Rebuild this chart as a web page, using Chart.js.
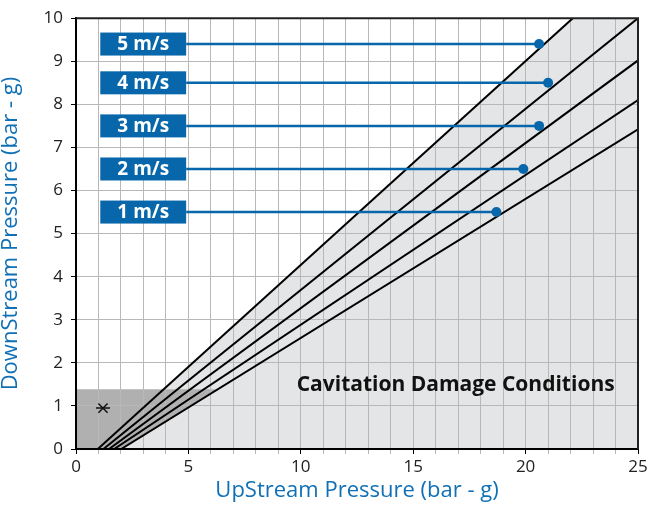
<!DOCTYPE html>
<html>
<head>
<meta charset="utf-8">
<script src="https://cdn.jsdelivr.net/npm/chart.js@4/dist/chart.umd.min.js"></script>
<style>
  html, body { margin: 0; padding: 0; background: #fff; }
  #wrap { width: 651px; height: 505px; }
</style>
</head>
<body>
<div id="wrap"><canvas id="chart"></canvas></div>
<script>
// Speed lines: each starts on the x axis and runs to the edge of the plot
const speeds = ['1 m/s', '2 m/s', '3 m/s', '4 m/s', '5 m/s'];
const lineStartX = [2.01, 1.70, 1.47, 1.22, 0.97];
const lineEndX = [25, 25, 25, 25, 22.1];
const lineEndY = [7.42, 8.1, 9.02, 10, 10];

// Marker dots and their label rows
const markerX = [18.7, 19.9, 20.6, 21.0, 20.6];
const markerY = [5.5, 6.5, 7.5, 8.5, 9.4];
const labelFromX = 1.08;
const labelToX = 4.9;

// Shaded zones
const safeZoneTop = 1.385;
const asteriskPoint = [{ x: 1.2, y: 0.95 }];
const zoneTitle = 'Cavitation Damage Conditions';
const zoneTitlePos = { x: 23.96, y: 1.48 };

const BLUE = '#0767aa';

const lineXAt = (i, y) => lineStartX[i] + y * (lineEndX[i] - lineStartX[i]) / lineEndY[i];

const datasets = [];
speeds.forEach((s, i) => {
  datasets.push({
    label: s + ' line',
    data: [{ x: lineStartX[i], y: 0 }, { x: lineEndX[i], y: lineEndY[i] }],
    showLine: true,
    borderColor: '#000',
    borderWidth: 2,
    pointRadius: 0,
    order: 2
  });
  datasets.push({
    label: s + ' leader',
    data: [{ x: labelToX, y: markerY[i] }, { x: markerX[i], y: markerY[i] }],
    showLine: true,
    borderColor: BLUE,
    borderWidth: 2.5,
    pointRadius: [0, 5],
    pointBackgroundColor: BLUE,
    pointBorderWidth: 0,
    order: 1
  });
});
datasets.push({
  label: 'asterisk x',
  data: asteriskPoint,
  pointStyle: 'crossRot',
  pointRadius: 6.5,
  borderColor: '#111',
  borderWidth: 1.5
});
datasets.push({
  label: 'asterisk bar',
  data: asteriskPoint,
  pointStyle: 'line',
  pointRadius: 7,
  borderColor: '#111',
  borderWidth: 1.5
});

// shaded zones drawn under the grid
const zonesPlugin = {
  id: 'zones',
  beforeDraw(chart) {
    const { ctx, scales: { x, y } } = chart;
    const steep = speeds.length - 1;
    ctx.save();
    ctx.fillStyle = '#e4e5e7';
    ctx.beginPath();
    ctx.moveTo(x.getPixelForValue(lineStartX[steep]), y.getPixelForValue(0));
    ctx.lineTo(x.getPixelForValue(lineEndX[steep]), y.getPixelForValue(lineEndY[steep]));
    ctx.lineTo(x.getPixelForValue(25), y.getPixelForValue(10));
    ctx.lineTo(x.getPixelForValue(25), y.getPixelForValue(0));
    ctx.closePath();
    ctx.fill();

    ctx.fillStyle = '#b0b0b0';
    ctx.beginPath();
    ctx.moveTo(x.getPixelForValue(0), y.getPixelForValue(0));
    ctx.lineTo(x.getPixelForValue(lineStartX[0]), y.getPixelForValue(0));
    ctx.lineTo(x.getPixelForValue(lineXAt(0, safeZoneTop)), y.getPixelForValue(safeZoneTop));
    ctx.lineTo(x.getPixelForValue(0), y.getPixelForValue(safeZoneTop));
    ctx.closePath();
    ctx.fill();
    ctx.restore();
  },
  afterDatasetsDraw(chart) {
    const { ctx, chartArea, scales: { x, y } } = chart;
    ctx.save();
    // top and right frame
    ctx.strokeStyle = '#222';
    ctx.lineWidth = 2;
    ctx.beginPath();
    ctx.moveTo(chartArea.left, chartArea.top);
    ctx.lineTo(chartArea.right, chartArea.top);
    ctx.lineTo(chartArea.right, chartArea.bottom);
    ctx.stroke();

    // speed label boxes
    speeds.forEach((s, i) => {
      const x0 = x.getPixelForValue(labelFromX);
      const x1 = x.getPixelForValue(labelToX);
      const yc = y.getPixelForValue(markerY[i]);
      ctx.fillStyle = BLUE;
      ctx.fillRect(x0, yc - 11.5, x1 - x0, 23);
      ctx.fillStyle = '#fff';
      ctx.font = 'bold 19px "Open Sans"';
      ctx.textAlign = 'center';
      ctx.textBaseline = 'middle';
      ctx.fillText(s, (x0 + x1) / 2, yc + 1);
    });

    ctx.fillStyle = '#111';
    ctx.font = 'bold 21px "Open Sans"';
    ctx.textAlign = 'right';
    ctx.textBaseline = 'middle';
    ctx.fillText(zoneTitle, x.getPixelForValue(zoneTitlePos.x), y.getPixelForValue(zoneTitlePos.y));
    ctx.restore();
  }
};

new Chart(document.getElementById('chart'), {
  type: 'scatter',
  data: { datasets },
  plugins: [zonesPlugin],
  options: {
    responsive: true,
    maintainAspectRatio: false,
    animation: false,
    layout: { padding: { top: 16, right: 13, left: 0, bottom: 0 } },
    plugins: { legend: { display: false }, tooltip: { enabled: false } },
    scales: {
      x: {
        type: 'linear',
        min: 0,
        max: 25,
        afterFit: (s) => { s.height = 56; },
        ticks: {
          stepSize: 1,
          autoSkip: false,
          maxRotation: 0,
          padding: 3,
          color: '#222',
          font: { family: '"Open Sans"', size: 17 },
          callback: (v) => (v % 5 === 0 ? v : '')
        },
        grid: {
          color: '#b8b8b8',
          tickLength: 5,
          tickColor: (c) => (c.tick && c.tick.value % 5 === 0 ? '#000' : '#b8b8b8')
        },
        border: { color: '#000', width: 2 },
        title: {
          display: true,
          text: 'UpStream Pressure (bar - g)',
          color: '#1070b5',
          font: { family: '"Open Sans"', size: 22 },
          padding: { top: 0, bottom: 1 }
        }
      },
      y: {
        type: 'linear',
        min: 0,
        max: 10,
        afterFit: (s) => { s.width = 76; },
        ticks: {
          stepSize: 1,
          padding: 8,
          color: '#222',
          font: { family: '"Open Sans"', size: 17 }
        },
        grid: { color: '#b8b8b8', tickLength: 5, tickColor: '#000' },
        border: { color: '#000', width: 2 },
        title: {
          display: true,
          text: 'DownStream Pressure (bar - g)',
          color: '#1070b5',
          font: { family: '"Open Sans"', size: 22 },
          padding: { top: -2, bottom: 0 }
        }
      }
    }
  }
});
</script>
</body>
</html>
